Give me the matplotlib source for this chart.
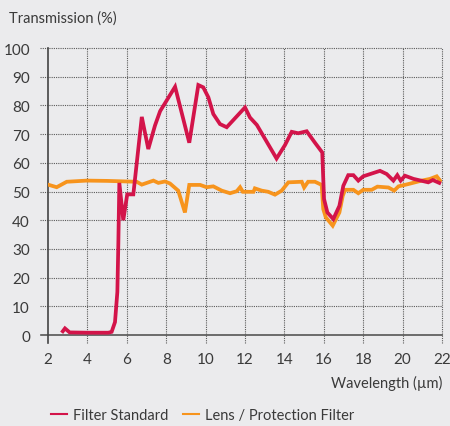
import matplotlib
matplotlib.use("Agg")
import matplotlib.pyplot as plt

# transmission curves, wavelength in µm / transmission in %
std_wl = [2.75, 2.86, 3.1, 4.0, 5.06, 5.23, 5.4, 5.52, 5.57, 5.62, 5.82, 6.02, 6.33,
          6.76, 7.09, 7.43, 7.69, 8.45, 9.17, 9.63, 9.88, 10.14, 10.39, 10.73, 11.07,
          12.0, 12.25, 12.6, 13.6, 14.03, 14.37, 14.7, 15.13, 15.55, 15.92, 16.01,
          16.18, 16.48, 16.79, 16.99, 17.24, 17.5, 17.75, 18.0, 18.85, 19.19, 19.53,
          19.73, 19.9, 20.12, 20.55, 21.3, 21.53, 21.86]
std_tr = [1.3, 2.3, 0.9, 0.8, 0.8, 1.1, 4.5, 15, 32, 53, 40, 49, 49,
          76, 64.8, 73, 78, 86.5, 67, 87.1, 86.3, 82.8, 77, 73.5, 72.4,
          79.3, 75.8, 73.2, 61.5, 66.2, 70.8, 70.3, 71, 67, 63.6, 47.4,
          42.7, 40.4, 45, 52, 55.7, 55.7, 53.8, 55.3, 57.2, 56.1, 53.8,
          55.7, 53.8, 55.5, 54.4, 53.2, 54, 53]

lens_wl = [2.0, 2.44, 2.95, 3.96, 5.0, 6.5, 6.76, 7.35, 7.6, 7.94, 8.19, 8.61, 8.95,
           9.17, 9.72, 10.05, 10.39, 10.82, 11.24, 11.58, 11.75, 11.89, 12.43, 12.5,
           12.85, 13.18, 13.52, 13.86, 14.2, 14.88, 15.0, 15.2, 15.55, 15.89, 15.97,
           16.1, 16.45, 16.79, 16.96, 17.08, 17.5, 17.75, 18.0, 18.43, 18.72, 19.28,
           19.57, 19.79, 20.29, 20.97, 21.39, 21.73, 21.9]
lens_tr = [52.4, 51.5, 53.4, 53.8, 53.7, 53.4, 52.4, 53.8, 53, 53.5, 52.8, 50.3, 42.7,
           52.3, 52.3, 51.5, 51.8, 50.3, 49.4, 50.1, 51.5, 49.9, 49.9, 51.1,
           50.3, 49.9, 48.9, 50.3, 53.2, 53.4, 51.4, 53.4, 53.4, 52.3, 43.9,
           41, 38.1, 42.7, 48.5, 50.6, 50.6, 49.4, 50.6, 50.6, 51.7, 51.4,
           50.3, 51.8, 52.6, 53.8, 54.4, 55.3, 53.8]

x_ticks = [2, 4, 6, 8, 10, 12, 14, 16, 18, 20, 22]
y_ticks = [0, 10, 20, 30, 40, 50, 60, 70, 80, 90, 100]

bg = "#ebebed"
txt = "#3a3a3a"
red = "#d3144a"
orange = "#f7941d"

plt.rcParams["font.family"] = ["Lato", "DejaVu Sans"]

fig = plt.figure(figsize=(4.5, 4.27), dpi=100, facecolor=bg)
ax = fig.add_axes([0.1067, 0.2131, 0.8756, 0.6721], facecolor=bg)

# dotted grid, running a little past the axes like tick marks
for y in y_ticks[1:]:
    ax.axhline(y, xmin=-0.02, xmax=1, color="#5a5a5a", lw=0.8, ls=(0, (1, 1)),
               clip_on=False, zorder=1)
for x in x_ticks[1:]:
    ax.axvline(x, ymin=-0.028, ymax=1, color="#5a5a5a", lw=0.8, ls=(0, (1, 1)),
               clip_on=False, zorder=1)
ax.axhline(0, xmin=-0.018, xmax=1, color="#555555", lw=1.2, clip_on=False, zorder=2)
ax.axvline(2, ymin=-0.028, ymax=1, color="#444444", lw=1.2, clip_on=False, zorder=2)

ax.plot(lens_wl, lens_tr, color=orange, lw=2.7, solid_joinstyle="miter", zorder=3,
        label="Lens / Protection Filter")
ax.plot(std_wl, std_tr, color=red, lw=2.7, solid_joinstyle="miter", zorder=4,
        label="Filter Standard")

ax.set_xlim(2, 22)
ax.set_ylim(0, 100)
ax.set_xticks(x_ticks)
ax.set_yticks(y_ticks)
ax.tick_params(axis="both", length=0, labelsize=11, colors=txt)
ax.tick_params(axis="y", pad=13)
ax.tick_params(axis="x", pad=12)
for s in ax.spines.values():
    s.set_visible(False)

fig.text(0.02, 0.957, "Transmission (%)", fontsize=10.5, color=txt, va="center")
fig.text(0.982, 0.103, "Wavelength (µm)", fontsize=10.5, color=txt, ha="right",
         va="center")

h, l = ax.get_legend_handles_labels()
leg = fig.legend(h[::-1], l[::-1], loc="center left", bbox_to_anchor=(0.085, 0.025),
                 ncol=2, frameon=False, fontsize=10.5, handlelength=1.1,
                 handletextpad=0.4, columnspacing=1.0, labelcolor=txt)
for line in leg.get_lines():
    line.set_linewidth(1.5)

fig.savefig("out.png", dpi=100, facecolor=bg)
